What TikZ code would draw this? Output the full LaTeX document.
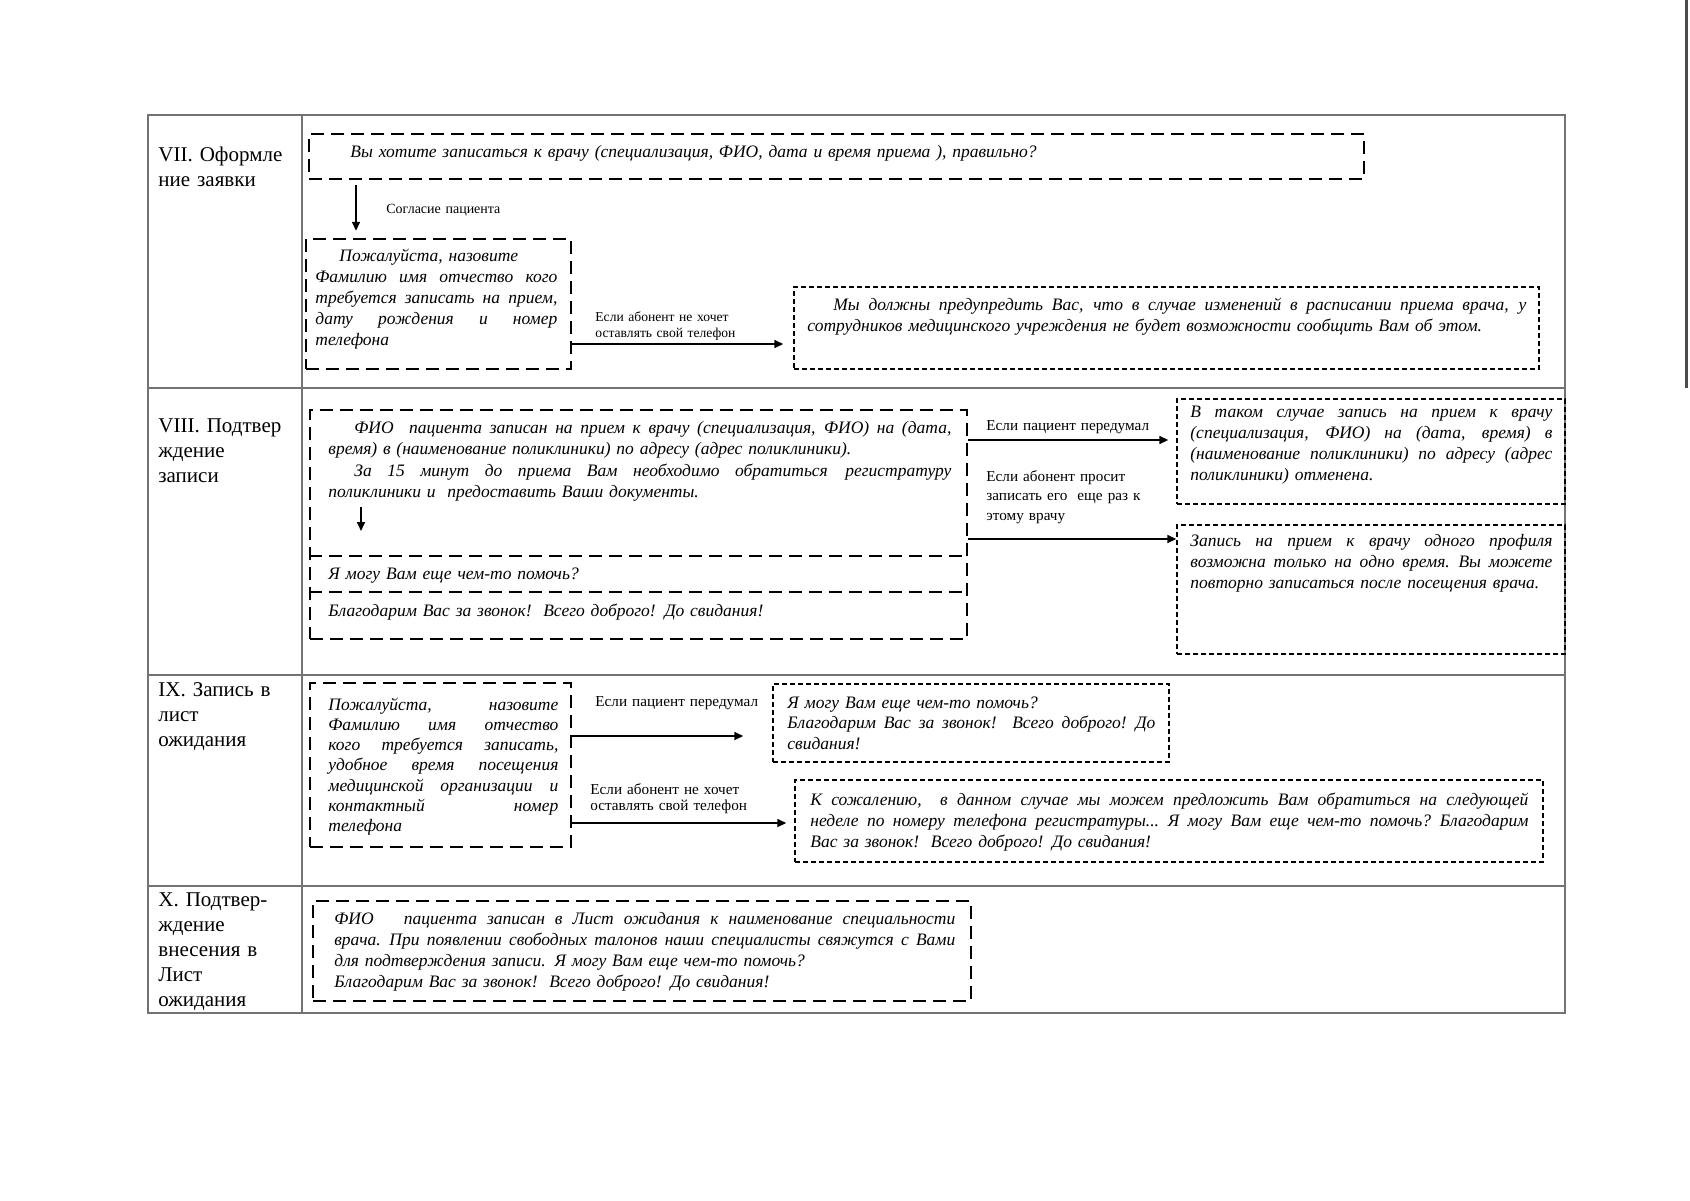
\documentclass[tikz,border=0pt]{standalone}
\usepackage{fontspec}
\setmainfont{Liberation Serif}
\usetikzlibrary{arrows.meta,fit}
\newcommand{\JL}[1]{\makebox[\jw][s]{\spaceskip=\fontdimen2\font plus 1fil minus \fontdimen4\font\relax #1}}
\tikzset{
  tgrid/.style={draw=black!55, line width=0.7pt},
  tbox/.style={draw=black, line width=1.2pt, dash pattern=on 6.5pt off 3.5pt, inner sep=0pt},
  dbox/.style={draw=black, line width=0.7pt, dash pattern=on 2.5pt off 1.5pt, inner sep=0pt},
  btxt/.style={anchor=base west, inner sep=0pt, align=left, text width=#1,
    execute at begin node={\def\jw{#1}}, font=\fontsize{8.75}{10.5}\selectfont\itshape},
  ttl/.style={anchor=base west, inner sep=0pt, align=left, text width=75pt, font=\fontsize{10.5}{12.5}\selectfont},
  lab/.style={anchor=base west, inner sep=0pt, align=left, text width=95pt, font=\fontsize{7.6}{8}\selectfont},
  arr/.style={draw=black, line width=0.8pt, -{Triangle[length=4.5pt,width=4pt]}},
}
\begin{document}
\begin{tikzpicture}[x=0.5pt,y=-0.5pt]
\fill[white] (0,0) rectangle (1690,1200);
\useasboundingbox (0,0) rectangle (1690,1200);
% table
\draw[tgrid] (148,115) rectangle (1565,1013);
\draw[tgrid] (302,115) -- (302,1013);
\draw[tgrid] (148,388) -- (1565,388);
\draw[tgrid] (148,675) -- (1565,675);
\draw[tgrid] (148,886) -- (1565,886);
\draw[black!70, line width=1.5pt] (1686,0) -- (1686,388);

% ---------- Row VII
\node[ttl] (t7) at (158,161) {VII. Оформле\\ние заявки};
\node[tbox, fit={(309,134)(1364,179)}] (b1) {};
\node[btxt=500pt] (x1) at (350,157) {Вы хотите записаться к врачу (специализация, ФИО, дата и время приема ), правильно?};
\node[tbox, fit={(306,239)(571,369)}] (b2) {};
\node[btxt=121pt] (x2) at (315,261) {\hspace*{12pt}Пожалуйста, назовите\\\JL{Фамилию имя отчество кого}\\\JL{требуется записать на прием,}\\\JL{дату рождения и номер}\\телефона};
\node[dbox, fit={(794,287)(1539,369)}] (b3) {};
\node[btxt=359.5pt] (x3) at (807,310) {\JL{\hspace*{13pt}Мы должны предупредить Вас, что в случае изменений в расписании приема врача, у}\\сотрудников медицинского учреждения не будет возможности сообщить Вам об этом.};
\draw[arr, shorten <=2.5pt, shorten >=3.5pt] (b1.south -| 356,0) -- (b2.north -| 356,0);
\node[lab, font=\fontsize{7}{8}\selectfont] (l1) at (386,213) {Согласие пациента};
\draw[arr, shorten >=5pt] (b2.east |- 0,344) -- (b3.west |- 0,344);
\node[lab, font=\fontsize{6.8}{8}\selectfont] (l2) at (595,321) {Если абонент не хочет\\оставлять свой телефон};

% ---------- Row VIII
\node[ttl] (t8) at (158,432) {VIII. Подтвер\\ждение\\записи};
\node[tbox, fit={(310,410)(967,639)}] (b4) {};
\draw[tbox] (b4.west |- 0,556) -- (b4.east |- 0,556);
\draw[tbox] (b4.west |- 0,592) -- (b4.east |- 0,592);
\node[btxt=311.5pt] (x4a) at (328,433) {\JL{\hspace*{13pt}ФИО\ \ пациента записан на прием к врачу (специализация, ФИО) на (дата,}\\время) в (наименование поликлиники) по адресу (адрес поликлиники).};
\node[btxt=311.5pt] (x4b) at (328,476) {\JL{\hspace*{13pt}За 15 минут до приема Вам необходимо обратиться\quad регистратуру}\\поликлиники и\ \ предоставить Ваши документы.};
\coordinate (d1) at (361,507);
\coordinate (d2) at (361,531);
\draw[arr] (d1) -- (d2);
\node[btxt=300pt] (x4c) at (328,579) {Я могу Вам еще чем-то помочь?};
\node[btxt=300pt] (x4d) at (328,616) {Благодарим Вас за звонок!\ \ Всего доброго! До свидания!};
\node[dbox, fit={(1177,399)(1565,504)}] (b5) {};
\node[btxt=181pt] (x5) at (1190,417) {\JL{В таком случае запись на прием к врачу}\\\JL{(специализация, ФИО) на (дата, время) в}\\\JL{(наименование поликлиники) по адресу (адрес}\\поликлиники) отменена.};
\node[dbox, fit={(1177,525)(1565,654)}] (b6) {};
\node[btxt=181pt] (x6) at (1190,546) {\JL{Запись на прием к врачу одного профиля}\\\JL{возможна только на одно время. Вы можете}\\повторно записаться после посещения врача.};
\draw[arr, shorten >=4pt] (b4.east |- 0,440) -- (b5.west |- 0,440);
\draw[arr] (b4.east |- 0,539) -- (b6.west |- 0,539);
\node[lab] (l3) at (986,430) {Если пациент передумал};
\node[lab, font=\fontsize{7.6}{9.8}\selectfont] (l4) at (986,481) {Если абонент просит\\записать его\ \ еще раз к\\этому врачу};

% ---------- Row IX
\node[ttl] (t9) at (158,696) {IX. Запись в\\лист\\ожидания};
\node[tbox, fit={(310,683)(571,847)}] (b7) {};
\node[btxt=115pt, font=\fontsize{8.75}{10.15}\selectfont\itshape] (x7) at (328,710) {\JL{Пожалуйста, назовите}\\\JL{Фамилию имя отчество}\\\JL{кого требуется записать,}\\\JL{удобное время посещения}\\\JL{медицинской организации и}\\\JL{контактный номер}\\телефона};
\node[dbox, fit={(773,684)(1169,762)}] (b8) {};
\node[btxt=184pt, font=\fontsize{8.75}{10.25}\selectfont\itshape] (x8) at (787,708) {Я могу Вам еще чем-то помочь?\\\JL{Благодарим Вас за звонок!\ \ Всего доброго! До}\\свидания!};
\node[dbox, fit={(795,780)(1543,862)}] (b9) {};
\node[btxt=359pt] (x9) at (810,805) {\JL{К сожалению,\ \ в данном случае мы можем предложить Вам обратиться на следующей}\\\JL{неделе по номеру телефона регистратуры... Я могу Вам еще чем-то помочь? Благодарим}\\Вас за звонок!\ \ Всего доброго! До свидания!};
\draw[arr, shorten >=14.5pt] (b7.east |- 0,736) -- (b8.west |- 0,736);
\draw[arr, shorten >=4pt] (b7.east |- 0,823) -- (b9.west |- 0,823);
\node[lab] (l5) at (595,706) {Если пациент передумал};
\node[lab] (l6) at (590,794) {Если абонент не хочет\\оставлять свой телефон};

% ---------- Row X
\node[ttl] (t10) at (158,906) {X. Подтвер-\\ждение\\внесения в\\Лист\\ожидания};
\node[tbox, fit={(313,901)(971,1001)}] (b10) {};
\node[btxt=310.5pt] (x10) at (334,924) {\JL{ФИО\ \ \ пациента записан в Лист ожидания к наименование специальности}\\\JL{врача. При появлении свободных талонов наши специалисты свяжутся с Вами}\\для подтверждения записи. Я могу Вам еще чем-то помочь?\\Благодарим Вас за звонок!\ \ Всего доброго! До свидания!};
\end{tikzpicture}
\end{document}
